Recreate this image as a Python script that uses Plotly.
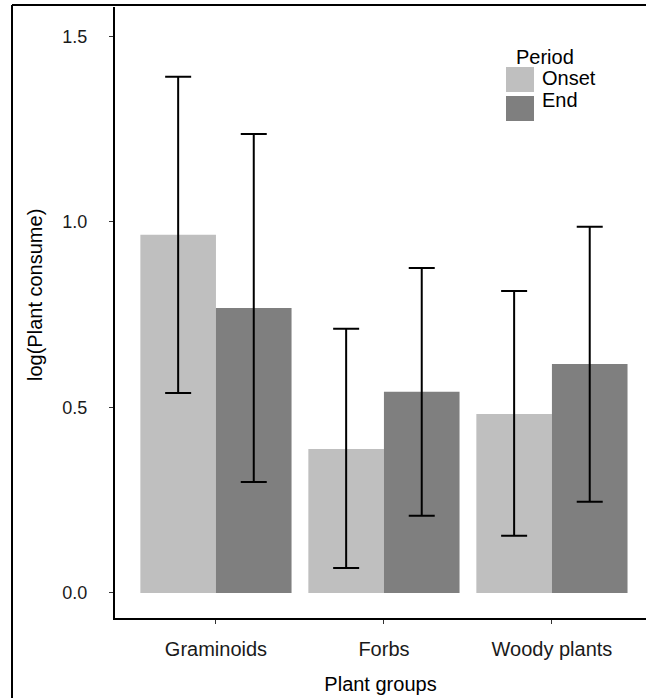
import plotly.graph_objects as go

categories = ["Graminoids", "Forbs", "Woody plants"]
onset_mean = [0.965, 0.388, 0.482]
end_mean = [0.768, 0.542, 0.617]
onset_upper = [1.391, 0.712, 0.814]
onset_lower = [0.539, 0.067, 0.154]
end_upper = [1.237, 0.876, 0.987]
end_lower = [0.299, 0.208, 0.246]
y_ticks = [0.0, 0.5, 1.0, 1.5]
y_tick_labels = ["0.0", "0.5", "1.0", "1.5"]

ONSET_COLOR = "#bfbfbf"
END_COLOR = "#7f7f7f"
FONT = "Liberation Sans, Arial, sans-serif"

W, H = 646, 698
L, R, T, B = 115, 0, 7, 80
PW, PH = W - L - R, H - T - B


def px_x(x):
    return (x - L) / PW


def px_y(y):
    return (H - B - y) / PH


def err_bar(mean, upper, lower):
    return dict(
        type="data", symmetric=False,
        array=[u - m for u, m in zip(upper, mean)],
        arrayminus=[m - lo for m, lo in zip(mean, lower)],
        color="black", thickness=2, width=13,
    )


fig = go.Figure()
fig.add_trace(go.Bar(
    name="Onset", x=categories, y=onset_mean,
    marker=dict(color=ONSET_COLOR, line=dict(width=0)),
    error_y=err_bar(onset_mean, onset_upper, onset_lower),
))
fig.add_trace(go.Bar(
    name="End", x=categories, y=end_mean,
    marker=dict(color=END_COLOR, line=dict(width=0)),
    error_y=err_bar(end_mean, end_upper, end_lower),
))

# manual legend (large swatches like the reference)
shapes = [
    dict(type="rect", xref="paper", yref="paper",
         x0=px_x(506), x1=px_x(534), y0=px_y(92), y1=px_y(67),
         fillcolor=ONSET_COLOR, line=dict(width=0)),
    dict(type="rect", xref="paper", yref="paper",
         x0=px_x(506), x1=px_x(534), y0=px_y(121), y1=px_y(96),
         fillcolor=END_COLOR, line=dict(width=0)),
    # outer frame (left and top edges)
    dict(type="line", xref="paper", yref="paper",
         x0=px_x(12), x1=px_x(12), y0=px_y(698), y1=px_y(5),
         line=dict(color="black", width=2)),
    dict(type="line", xref="paper", yref="paper",
         x0=px_x(12), x1=px_x(646), y0=px_y(5), y1=px_y(5),
         line=dict(color="black", width=2)),
]
annotations = [
    dict(text="Period", xref="paper", yref="paper", x=px_x(514), y=px_y(57),
         xanchor="left", yanchor="middle", showarrow=False,
         font=dict(family=FONT, size=20, color="black")),
    dict(text="Onset", xref="paper", yref="paper", x=px_x(540), y=px_y(78),
         xanchor="left", yanchor="middle", showarrow=False,
         font=dict(family=FONT, size=20, color="black")),
    dict(text="End", xref="paper", yref="paper", x=px_x(540), y=px_y(100),
         xanchor="left", yanchor="middle", showarrow=False,
         font=dict(family=FONT, size=20, color="black")),
    # y-axis title
    dict(text="log(Plant consume)", xref="paper", yref="paper",
         x=px_x(35), y=px_y(295), textangle=-90,
         xanchor="center", yanchor="middle", showarrow=False,
         font=dict(family=FONT, size=20, color="black")),
]

fig.update_layout(
    width=W, height=H,
    margin=dict(l=L, r=R, t=T, b=B, pad=0),
    paper_bgcolor="white", plot_bgcolor="white",
    barmode="group", bargap=0.1, bargroupgap=0,
    showlegend=False,
    shapes=shapes, annotations=annotations,
    font=dict(family=FONT, color="black"),
)
fig.update_xaxes(
    range=[-0.601, 2.56], showgrid=False, zeroline=False,
    showline=True, linecolor="black", linewidth=2,
    ticks="outside", ticklen=4, tickwidth=1, tickcolor="#333",
    tickfont=dict(family=FONT, size=20, color="#1a1a1a"),
    ticklabelstandoff=8,
    title=dict(text="Plant groups", font=dict(family=FONT, size=20, color="black"), standoff=18),
)
fig.update_yaxes(
    range=[-0.0674, 1.579], showgrid=False, zeroline=False,
    showline=True, linecolor="black", linewidth=2,
    tickvals=y_ticks, ticktext=y_tick_labels,
    ticks="outside", ticklen=4, tickwidth=1, tickcolor="#333",
    tickfont=dict(family=FONT, size=18, color="#1a1a1a"),
    ticklabelstandoff=18,
)

fig.write_html(
    "out.html",
    config={"displayModeBar": False},
    post_script="document.body.style.margin='0';document.body.style.overflow='hidden';",
)
